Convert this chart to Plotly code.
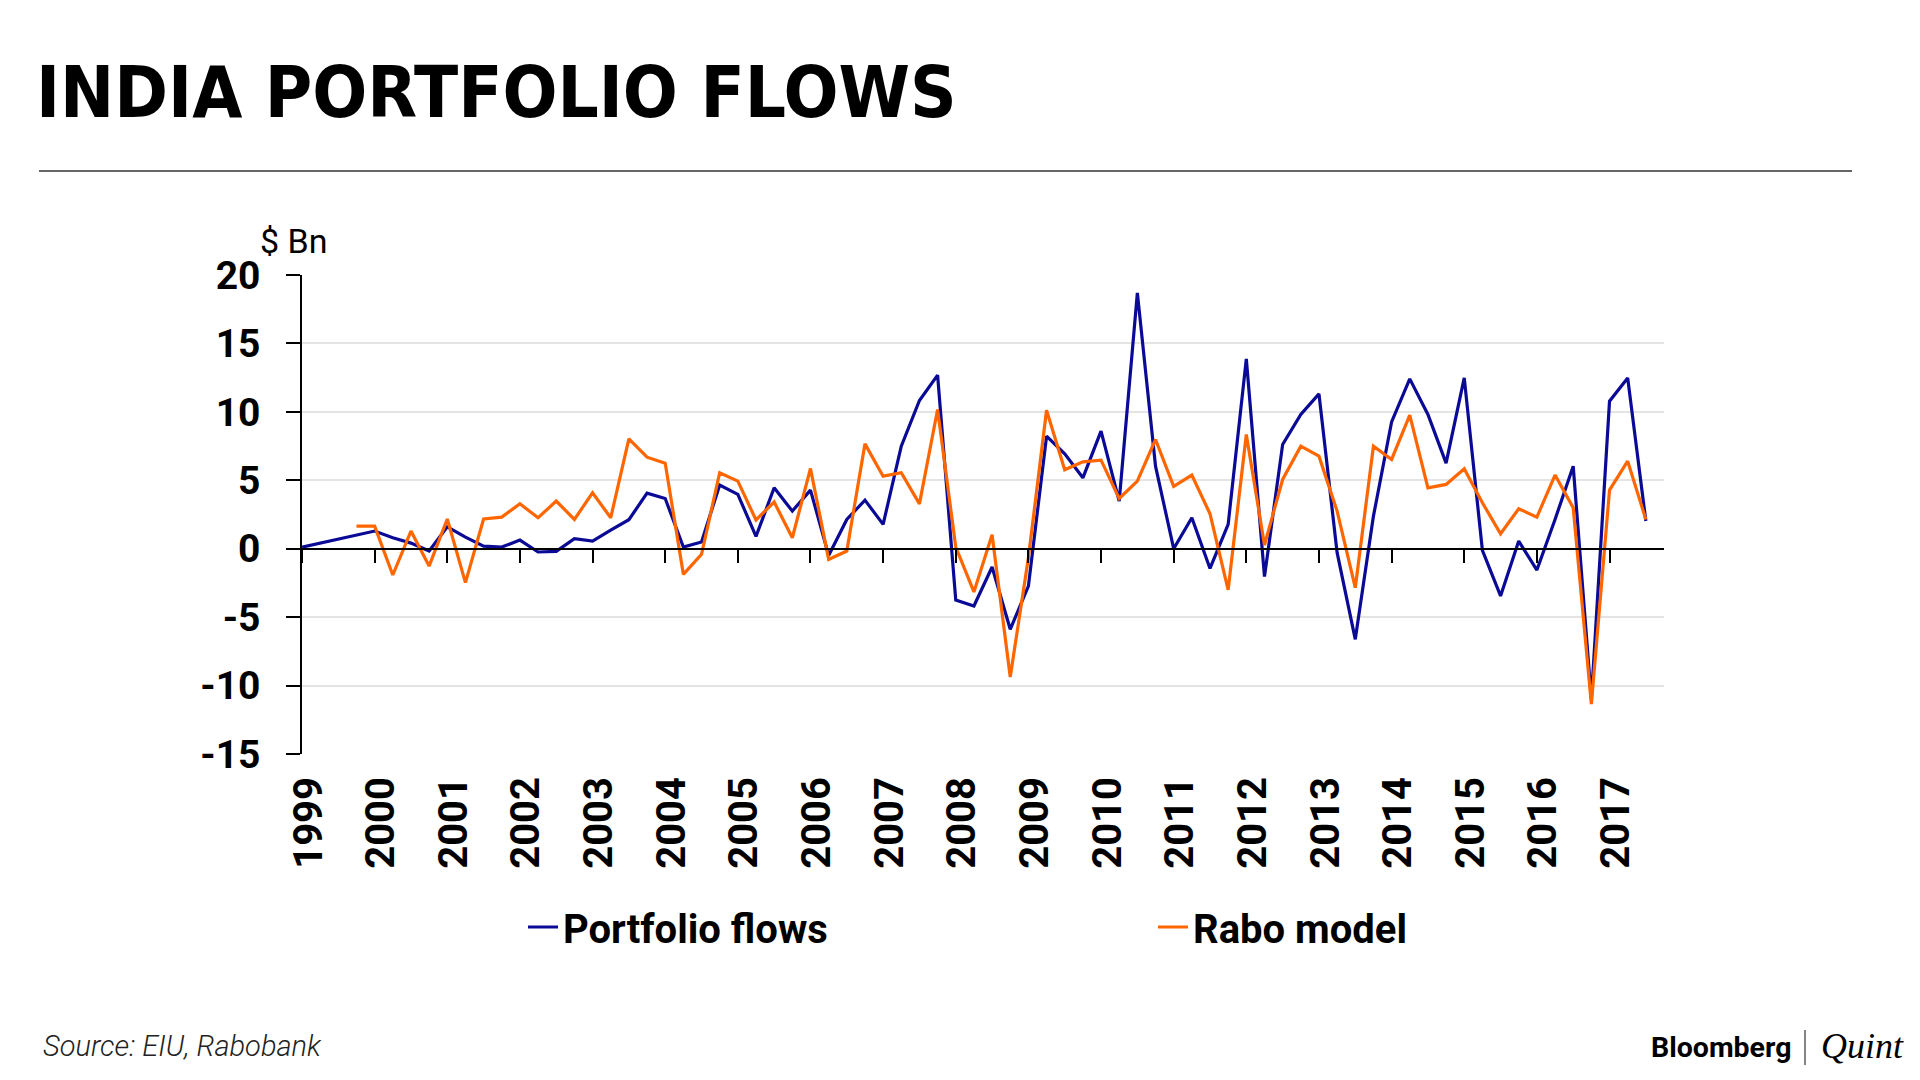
import plotly.graph_objects as go

# ---------------- data ----------------
years = list(range(1999, 2018))
quarters = [f"{y}Q{q}" for y in range(1999, 2018) for q in range(1, 5)][:75]

portfolio_flows = [0.12, None, None, None, 1.29, 0.8, 0.41, -0.17, 1.6, 0.85,
                   0.19, 0.12, 0.63, -0.24, -0.19, 0.73, 0.56, 1.36, 2.12, 4.06,
                   3.67, 0.12, 0.49, 4.65, 3.97, 0.9, 4.45, 2.75, 4.28, -0.49,
                   2.14, 3.55, 1.78, 7.49, 10.83, 12.68, -3.75, -4.18, -1.34, -5.89,
                   -2.73, 8.22, 6.93, 5.18, 8.59, 3.48, 18.69, 6.03, 0.0, 2.26,
                   -1.44, 1.78, 13.87, -2.04, 7.62, 9.81, 11.31, -0.29, -6.62, 2.38,
                   9.27, 12.41, 9.81, 6.25, 12.48, -0.12, -3.45, 0.56, -1.56, 2.14,
                   6.03, -11.0, 10.78, 12.48, 2.02]

rabo_model = [None, None, None, 1.65, 1.65, -1.92, 1.29, -1.27, 2.17, -2.48,
              2.17, 2.31, 3.28, 2.26, 3.48, 2.14, 4.09, 2.26, 8.03, 6.69,
              6.25, -1.87, -0.41, 5.55, 4.94, 2.1, 3.41, 0.8, 5.86, -0.78,
              -0.17, 7.66, 5.3, 5.55, 3.28, 10.17, 0.12, -3.16, 1.02, -9.37,
              -0.66, 10.12, 5.77, 6.35, 6.47, 3.67, 4.94, 7.98, 4.55, 5.38,
              2.55, -3.0, 8.35, 0.27, 5.06, 7.49, 6.76, 2.75, -2.85, 7.49,
              6.52, 9.76, 4.45, 4.7, 5.84, 3.36, 1.09, 2.92, 2.31, 5.38,
              2.99, -11.36, 4.28, 6.4, 2.14]

y_ticks = [-15, -10, -5, 0, 5, 10, 15, 20]

x_vals = [int(q[:4]) + (int(q[-1]) - 1) / 4 for q in quarters]

# ---------------- layout geometry (px) ----------------
W, H = 1920, 1080
L, R, T, B = 294, 1656, 267, 746
pw, ph = R - L, B - T


def px(x):
    return (x - L) / pw


def py(y):
    return (B - y) / ph


BLUE = "#0a0a96"
ORANGE = "#ff6600"
FONT = "Roboto"
TITLE_FONT = ("'Noto Sans ExtraCondensed', 'Liberation Sans Narrow', 'Arial Narrow', "
              "'Noto Sans Condensed', 'DejaVu Sans Condensed', Roboto, sans-serif")

xr = [1999, 2017.75]

fig = go.Figure()
fig.add_trace(go.Scatter(x=x_vals, y=portfolio_flows, name="Portfolio flows",
                         mode="lines", connectgaps=True,
                         line=dict(color=BLUE, width=3.2)))
fig.add_trace(go.Scatter(x=x_vals, y=rabo_model, name="Rabo model",
                         mode="lines", connectgaps=False,
                         line=dict(color=ORANGE, width=3.2)))
# invisible trace for the label axis
fig.add_trace(go.Scatter(x=[xr[0]], y=[None], xaxis="x2", showlegend=False,
                         hoverinfo="skip"))

zero_pos = (0 - y_ticks[0]) / (y_ticks[-1] - y_ticks[0])

fig.update_layout(
    width=W, height=H,
    margin=dict(l=L, r=W - R, t=T, b=H - B),
    plot_bgcolor="white", paper_bgcolor="white",
    font=dict(family=FONT, color="black"),
    xaxis=dict(range=xr, anchor="free", position=zero_pos, side="bottom",
               showgrid=False, zeroline=False, showline=True,
               linecolor="black", linewidth=1.5,
               tickmode="array", tickvals=years, ticks="outside",
               ticklen=14, tickwidth=1.5, tickcolor="black",
               showticklabels=False),
    xaxis2=dict(range=[xr[0] - 0.09, xr[1] - 0.09], overlaying="x", anchor="y",
                side="bottom", showgrid=False, zeroline=False, showline=False,
                tickmode="array", tickvals=years,
                ticktext=[str(y) for y in years], ticks="",
                tickangle=-90, ticklabelstandoff=14,
                tickfont=dict(family=FONT, size=40, color="black", weight="bold")),
    yaxis=dict(range=[y_ticks[0], y_ticks[-1]], tickmode="array",
               tickvals=y_ticks, ticktext=[str(v) for v in y_ticks],
               showgrid=True, gridcolor="#e4e4e4", gridwidth=2,
               zeroline=False, showline=True, linecolor="black", linewidth=1.5,
               ticks="outside", ticklen=14, tickwidth=1.5, tickcolor="black",
               ticklabelstandoff=18,
               tickfont=dict(family=FONT, size=39, color="black", weight="bold")),
    legend=dict(orientation="h", x=px(515), xanchor="left",
                y=py(919), yanchor="middle",
                entrywidth=585, entrywidthmode="pixels",
                font=dict(family=FONT, size=40, color="black", weight="bold"),
                bgcolor="rgba(0,0,0,0)"),
    showlegend=True,
)

ann = []
ann.append(dict(text="INDIA PORTFOLIO FLOWS", x=px(26), y=py(84),
                xref="paper", yref="paper", xanchor="left", yanchor="middle",
                showarrow=False,
                font=dict(family=TITLE_FONT, size=72,
                          color="black", weight="bold")))
ann.append(dict(text="$ Bn", x=px(250), y=py(233), xref="paper", yref="paper",
                xanchor="left", yanchor="middle", showarrow=False,
                font=dict(family=FONT, size=34, color="black")))
ann.append(dict(text="Source: EIU, Rabobank", x=px(33), y=py(1038),
                xref="paper", yref="paper", xanchor="left", yanchor="middle",
                showarrow=False,
                font=dict(family=FONT, size=29, color="#222222",
                          weight=300, style="italic")))
ann.append(dict(text="Bloomberg", x=px(1785), y=py(1039), xref="paper",
                yref="paper", xanchor="right", yanchor="middle",
                showarrow=False,
                font=dict(family=FONT, size=28.5, color="black", weight="bold")))
ann.append(dict(text="Quint", x=px(1811), y=py(1038), xref="paper",
                yref="paper", xanchor="left", yanchor="middle",
                showarrow=False,
                font=dict(family="Liberation Serif", size=36, color="black",
                          style="italic")))
fig.update_layout(annotations=ann)

shapes = [
    dict(type="line", xref="paper", yref="paper", x0=px(31), x1=px(1844),
         y0=py(163), y1=py(163), line=dict(color="#333333", width=1.5)),
    dict(type="line", xref="paper", yref="paper", x0=px(1797), x1=px(1797),
         y0=py(1022), y1=py(1057), line=dict(color="#333333", width=1.2)),
]
fig.update_layout(shapes=shapes)

fig.write_html("out.html")
